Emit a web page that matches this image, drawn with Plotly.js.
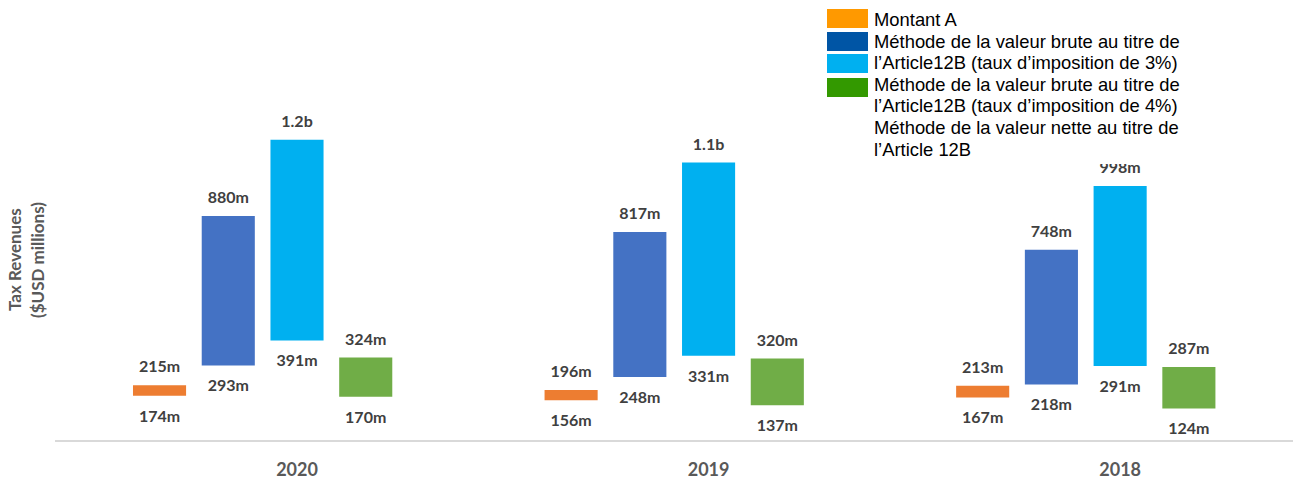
<!DOCTYPE html>
<html>
<head>
<meta charset="utf-8">
<script src="https://cdn.plot.ly/plotly-3.0.1.min.js"></script>
<style>html,body{margin:0;padding:0;background:#fff;}#chart{width:1293px;height:483px;}</style>
</head>
<body>
<div id="chart"></div>
<script>
// ---- data ----
const years = ['2020', '2019', '2018'];
const seriesNames = ['Montant A', 'Valeur brute 3%', 'Valeur brute 4%', 'Valeur nette'];
const lowMontantA  = [174, 156, 167];
const highMontantA = [215, 196, 213];
const lowBrute3    = [293, 248, 218];
const highBrute3   = [880, 817, 748];
const lowBrute4    = [391, 331, 291];
const highBrute4   = [1180, 1090, 998];
const lowNette     = [170, 137, 124];
const highNette    = [324, 320, 287];
const legendLines = [
  'Montant A',
  'Méthode de la valeur brute au titre de',
  'l\u2019Article12B (taux d\u2019imposition de 3%)',
  'Méthode de la valeur brute au titre de',
  'l\u2019Article12B (taux d\u2019imposition de 4%)',
  'Méthode de la valeur nette au titre de',
  'l\u2019Article 12B'
];
const yTitleLines = ['Tax Revenues', '($USD millions)'];

// ---- styles ----
const barColors = ['#ED7D31', '#4472C4', '#00B0F0', '#70AD47'];
const legendColors = ['#FF9900', '#0055A5', '#00B0F0', '#339900'];
const lows = [lowMontantA, lowBrute3, lowBrute4, lowNette];
const highs = [highMontantA, highBrute3, highBrute4, highNette];

const W = 1293, H = 483, ML = 55, MB = 43, MT = 0, MR = 0;
const plotW = W - ML - MR, plotH = H - MT - MB;
const xRange = [-0.588, 2.420];
const slot = 0.167;      // group slot (5 slots per category, last one empty)
const barW = 0.129;

function fmt(v) { return v >= 1000 ? (v / 1000).toFixed(1) + 'b' : v + 'm'; }
function xp(px) { return (px - ML) / plotW; }
function yp(py) { return (H - MB - py) / plotH; }

const labelFont = {family: 'Lato, "Open Sans", sans-serif', size: 16, color: '#404040', weight: 'bold'};
const traces = [];
seriesNames.forEach((name, s) => {
  const xs = years.map((y, i) => i + (s - 2) * slot);
  traces.push({
    type: 'bar', name: name, x: xs,
    y: highs[s].map((h, i) => h - lows[s][i]),
    base: lows[s], width: barW,
    marker: {color: barColors[s], line: {width: 0}},
    showlegend: false, hoverinfo: 'skip'
  });
  traces.push({
    type: 'scatter', mode: 'markers+text', x: xs, y: highs[s],
    text: highs[s].map(fmt), textposition: 'top center',
    marker: {size: 12.5, color: 'rgba(0,0,0,0)'},
    textfont: labelFont, showlegend: false, hoverinfo: 'skip'
  });
  traces.push({
    type: 'scatter', mode: 'markers+text', x: xs, y: lows[s],
    text: lows[s].map(fmt), textposition: 'bottom center',
    marker: {size: 20.5, color: 'rgba(0,0,0,0)'},
    textfont: labelFont, showlegend: false, hoverinfo: 'skip'
  });
});

// ---- manual legend (white panel, colour blocks, text lines) ----
const shapes = [{
  type: 'rect', xref: 'paper', yref: 'paper', layer: 'above',
  x0: xp(818), x1: xp(1210), y0: yp(0), y1: yp(164),
  fillcolor: '#ffffff', line: {width: 0}
}];
const rowTop = [9, 32, 54, 78];
legendColors.forEach((c, k) => {
  shapes.push({
    type: 'rect', xref: 'paper', yref: 'paper', layer: 'above',
    x0: xp(827), x1: xp(868), y0: yp(rowTop[k]), y1: yp(rowTop[k] + 19),
    fillcolor: c, line: {width: 0}
  });
});
const annotations = [];
legendLines.forEach((t, k) => {
  annotations.push({
    xref: 'paper', yref: 'paper', x: xp(872), y: yp(19.5 + k * 21.6),
    xanchor: 'left', yanchor: 'middle', showarrow: false, text: t,
    font: {family: '"Liberation Sans", Arial, sans-serif', size: 18.4, color: '#000000'}
  });
});
const yTitleX = [15, 38];
yTitleLines.forEach((t, k) => {
  annotations.push({
    xref: 'paper', yref: 'paper', x: xp(yTitleX[k]), y: yp(260),
    xanchor: 'center', yanchor: 'middle', showarrow: false, text: t, textangle: -90,
    font: {family: 'Lato, "Open Sans", sans-serif', size: 17, color: '#595959', weight: 'bold'}
  });
});

const layout = {
  width: W, height: H,
  margin: {l: ML, r: MR, t: MT, b: MB, pad: 0},
  paper_bgcolor: '#ffffff', plot_bgcolor: '#ffffff',
  barmode: 'overlay', showlegend: false,
  xaxis: {
    range: xRange, tickvals: years.map((y, i) => i), ticktext: years,
    showgrid: false, zeroline: false, showline: true, linecolor: '#D9D9D9', linewidth: 2,
    ticks: 'outside', ticklen: 12, tickcolor: 'rgba(0,0,0,0)',
    tickfont: {family: 'Lato, "Open Sans", sans-serif', size: 18, color: '#595959', weight: 'bold'},
    fixedrange: true
  },
  yaxis: {
    range: [0, 1729], showgrid: false, zeroline: false, showline: false,
    showticklabels: false, ticks: '', fixedrange: true
  },
  shapes: shapes,
  annotations: annotations
};

Plotly.newPlot('chart', traces, layout, {displayModeBar: false, staticPlot: true});
</script>
</body>
</html>
